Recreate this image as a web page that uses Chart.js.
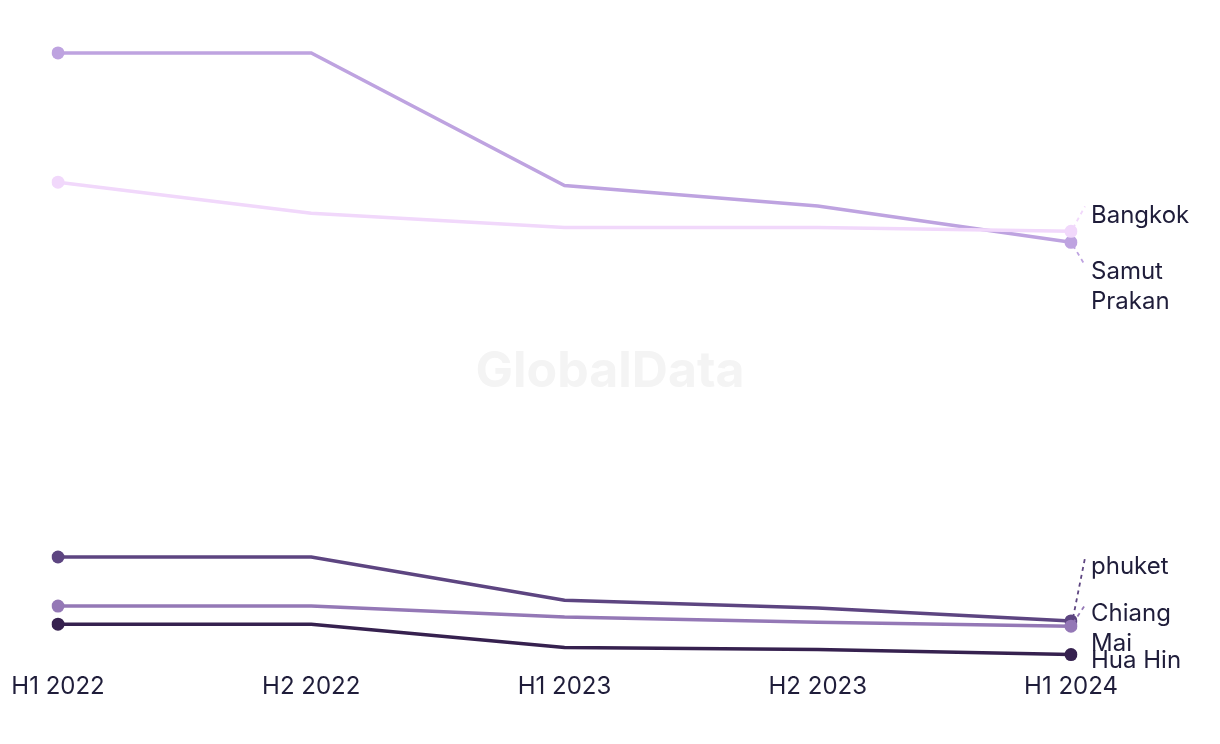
<!DOCTYPE html>
<html>
<head>
<meta charset="utf-8">
<script src="https://cdn.jsdelivr.net/npm/chart.js@4"></script>
<style>
  html, body { margin: 0; padding: 0; background: #ffffff; }
  #wrap { position: relative; width: 1220px; height: 744px; }
</style>
</head>
<body>
<div id="wrap"><canvas id="c" width="1220" height="744"></canvas></div>
<script>
// ---- data ----
const categories = ["H1 2022", "H2 2022", "H1 2023", "H2 2023", "H1 2024"];
const seriesNames = ["Bangkok", "Samut Prakan", "Chiang Mai", "phuket", "Hua Hin"];
const bangkok     = [74.9, 70.1, 67.9, 67.9, 67.3];
const samutPrakan = [94.9, 94.9, 74.4, 71.2, 65.6];
const chiangMai   = [9.3, 9.3, 7.6, 6.8, 6.2];
const phuket      = [16.9, 16.9, 10.2, 9.0, 7.0];
const huaHin      = [6.5, 6.5, 2.9, 2.6, 1.8];

// ---- styles ----
const colors = {
  "Bangkok": "#f1d8fb",
  "Samut Prakan": "#bea3e0",
  "Chiang Mai": "#9478b6",
  "phuket": "#5d4581",
  "Hua Hin": "#36214f"
};
const labelLines = {
  "Bangkok": ["Bangkok"],
  "Samut Prakan": ["Samut", "Prakan"],
  "Chiang Mai": ["Chiang", "Mai"],
  "phuket": ["phuket"],
  "Hua Hin": ["Hua Hin"]
};
const labelDy = { "Bangkok": -16, "Samut Prakan": 29, "Chiang Mai": -12, "phuket": -54, "Hua Hin": 6 };
const leader = { "Bangkok": true, "Samut Prakan": true, "Chiang Mai": true, "phuket": true, "Hua Hin": false };
const FONT = "Inter, 'Open Sans', sans-serif";
const TEXT = "#1f1d3a";

const seriesData = [bangkok, samutPrakan, chiangMai, phuket, huaHin];

const endLabels = {
  id: "endLabels",
  afterDatasetsDraw(chart) {
    const ctx = chart.ctx;
    ctx.save();
    chart.data.datasets.forEach((ds, i) => {
      const meta = chart.getDatasetMeta(i);
      const pt = meta.data[meta.data.length - 1];
      const name = ds.label;
      const ly = pt.y + labelDy[name];
      const lx = pt.x + 20;
      if (leader[name]) {
        ctx.beginPath();
        ctx.setLineDash([4, 4]);
        ctx.strokeStyle = ds.borderColor;
        ctx.lineWidth = 1.8;
        ctx.moveTo(pt.x + 2, pt.y + (labelDy[name] < 0 ? -3 : 3));
        ctx.lineTo(pt.x + 14, labelDy[name] < 0 ? ly - 9 : ly - 6);
        ctx.stroke();
        ctx.setLineDash([]);
      }
      ctx.fillStyle = TEXT;
      ctx.font = "24px " + FONT;
      ctx.textBaseline = "middle";
      ctx.textAlign = "left";
      labelLines[name].forEach((t, k) => ctx.fillText(t, lx, ly + k * 30));
    });
    ctx.restore();
  }
};

const watermark = {
  id: "watermark",
  beforeDatasetsDraw(chart) {
    const ctx = chart.ctx;
    ctx.save();
    ctx.fillStyle = "#f4f4f4";
    ctx.font = "bold 50px " + FONT;
    ctx.textAlign = "center";
    ctx.textBaseline = "middle";
    ctx.fillText("GlobalData", 610, 372);
    ctx.restore();
  }
};

new Chart(document.getElementById("c"), {
  type: "line",
  data: {
    labels: categories,
    datasets: seriesNames.map((n, i) => ({
      label: n,
      data: seriesData[i],
      borderColor: colors[n],
      backgroundColor: colors[n],
      pointBackgroundColor: colors[n],
      pointBorderWidth: 0,
      borderWidth: 3.5,
      tension: 0,
      pointRadius: (c) => (c.dataIndex === 0 || c.dataIndex === categories.length - 1) ? 6.5 : 0,
      pointHoverRadius: 6.5
    }))
  },
  options: {
    responsive: false,
    animation: false,
    layout: { padding: { left: 58, right: 149, top: 20, bottom: 37 } },
    plugins: { legend: { display: false }, tooltip: { enabled: false } },
    scales: {
      x: {
        offset: false,
        grid: { display: false, drawTicks: false },
        border: { display: false },
        ticks: { color: TEXT, font: { family: FONT, size: 24 }, padding: 6, maxRotation: 0 }
      },
      y: {
        display: false,
        min: 0,
        max: 100
      }
    }
  },
  plugins: [watermark, endLabels]
});
</script>
</body>
</html>
